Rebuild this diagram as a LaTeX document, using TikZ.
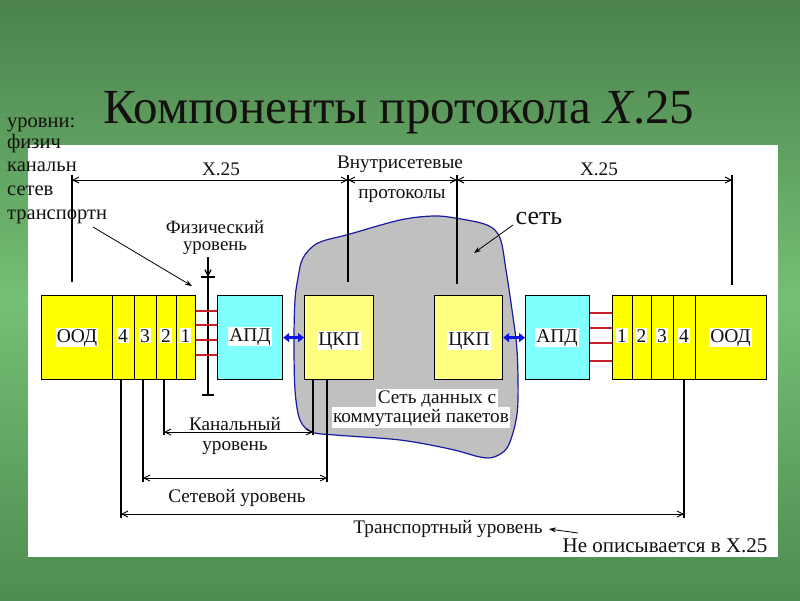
\documentclass[tikz,border=0pt]{standalone}
\usepackage{fontspec}
\setmainfont{Liberation Serif}
\usetikzlibrary{arrows.meta}
\definecolor{bgtop}{HTML}{4B824D}
\definecolor{bgmid}{HTML}{74C074}
\definecolor{bgbot}{HTML}{4F8C51}
\definecolor{yel}{HTML}{FFFF00}
\definecolor{ltyel}{HTML}{FFFF80}
\definecolor{cyanb}{HTML}{80FFFF}
\definecolor{cloudgray}{HTML}{C0C0C0}
\definecolor{cloudedge}{HTML}{1A1AA0}
\definecolor{redline}{HTML}{C81E28}
\definecolor{bluearr}{HTML}{0A14E6}
\definecolor{txt}{HTML}{141010}
\newcommand\fsz[1]{\fontsize{#1}{#1}\selectfont}
\begin{document}
\begin{tikzpicture}[x=1pt,y=-1pt,
  every node/.style={inner sep=0pt,text=txt},
  yblk/.style={draw=black,line width=1.2pt,fill=yel,anchor=north west,minimum height=84pt},
  lyblk/.style={yblk,fill=ltyel},
  cblk/.style={yblk,fill=cyanb},
  blbl/.style={fill=white,inner sep=1pt,anchor=base,font=\fsz{19.5}},
  dlbl/.style={anchor=base,font=\fsz{19.2}},
  wlbl/.style={dlbl,fill=white,inner sep=1.5pt},
  sidelbl/.style={anchor=base west,font=\fsz{20.5}},
  dim/.style={line width=0.9pt,{Straight Barb[length=6pt,width=6pt]}-{Straight Barb[length=6pt,width=6pt]}},
  tick/.style={line width=2pt},
  redl/.style={draw=redline,line width=2.5pt},
  blarr/.style={draw=bluearr,line width=3pt,{Triangle[length=6pt,width=9pt]}-{Triangle[length=6pt,width=9pt]}},
  ptr/.style={line width=0.8pt,-{Stealth[length=7pt,width=5pt]}}
]
\useasboundingbox (0,0) rectangle (800,600);
% background
\shade[top color=bgtop,bottom color=bgmid] (0,0) rectangle (800,300);
\shade[top color=bgmid,bottom color=bgbot] (0,300) rectangle (800,600);
\fill[white] (28,145) rectangle (778,557);

% title
\node[anchor=base,font=\fsz{49}] (title) at (399,123) {Компоненты протокола \textit{X}.25};

% side labels
\node[sidelbl] (s1) at (7,127) {уровни:};
\node[sidelbl] (s2) at (7,148) {физич};
\node[sidelbl] (s3) at (7,171) {канальн};
\node[sidelbl] (s4) at (7,195) {сетев};
\node[sidelbl] (s5) at (7,219) {транспортн};

% cloud
\draw[fill=cloudgray,draw=cloudedge,line width=1.2pt] plot[smooth cycle,tension=0.55] coordinates {
 (295,300) (298,278) (303,258) (318,243) (350,234) (400,220) (433,216) (455,218) (487,225) (500,238)
 (506,270) (512,310) (517,350) (518,400) (515,425) (507,448) (494,457) (480,457) (450,449) (400,440)
 (335,435) (312,432) (300,420) (295,390) (294,340)};

% top dimensions
\coordinate (ta) at (72,180); \coordinate (tb) at (348,180);
\coordinate (tc) at (457,180); \coordinate (td) at (732,180);
\coordinate (ta0) at (72,175); \coordinate (ta1) at (72,282);
\coordinate (tb0) at (348,175); \coordinate (tb1) at (348,282);
\coordinate (tc0) at (457,175); \coordinate (tc1) at (457,284);
\coordinate (td0) at (732,175); \coordinate (td1) at (732,285);
\draw[tick] (ta0) -- (ta1);
\draw[tick] (tb0) -- (tb1);
\draw[tick] (tc0) -- (tc1);
\draw[tick] (td0) -- (td1);
\draw[dim] (ta) -- (tb);
\draw[dim] (tb) -- (tc);
\draw[dim] (tc) -- (td);
\node[dlbl] (x25l) at (221,175) {X.25};
\node[dlbl] (x25r) at (599,175) {X.25};
\node[dlbl] (vnut) at (400,168) {Внутрисетевые};
\node[dlbl] (prot) at (402,198) {протоколы};

% physical level
\node[dlbl,align=center,font=\fontsize{18.8}{17}\selectfont] (fiz) at (215,250) {Физический\\уровень};
\coordinate (ph0) at (208,257); \coordinate (ph1) at (208,277); \coordinate (ph2) at (208,395);
\coordinate (pb1) at (201,277); \coordinate (pb2) at (215,277);
\coordinate (pc1) at (202,395); \coordinate (pc2) at (214,395);
\draw[line width=1.2pt,-{Straight Barb[length=6pt,width=6pt]}] (ph0) -- (ph1);
\draw[line width=1.5pt] (ph1) -- (ph2);
\draw[line width=1.2pt] (pb1) -- (pb2);
\draw[line width=1.2pt] (pc1) -- (pc2);

% red lines
\foreach \yy in {311,325,340,355} \draw[redl] (195,\yy) -- (217,\yy);
\foreach \yy in {313,328,343,361} \draw[redl] (589,\yy) -- (612,\yy);

% left station
\node[yblk,minimum width=71pt] (lood) at (41,295) {};
\node[yblk,minimum width=22pt] (l4) at (112,295) {};
\node[yblk,minimum width=22pt] (l3) at (134,295) {};
\node[yblk,minimum width=20pt] (l2) at (156,295) {};
\node[yblk,minimum width=19pt] (l1) at (176,295) {};
\node[blbl] (loodt) at (77,342) {ООД};
\node[blbl] (l4t) at (123,342) {4};
\node[blbl] (l3t) at (145,342) {3};
\node[blbl] (l2t) at (166,342) {2};
\node[blbl] (l1t) at (185.5,342) {1};
\node[cblk,minimum width=65pt] (lapd) at (217,295) {};
\node[blbl] (lapdt) at (250,341) {АПД};
\node[lyblk,minimum width=69pt] (lckp) at (304,295) {};
\node[blbl] (lckpt) at (339,345) {ЦКП};

% right station
\node[lyblk,minimum width=68pt] (rckp) at (434,295) {};
\node[blbl] (rckpt) at (469,345) {ЦКП};
\node[cblk,minimum width=64pt] (rapd) at (525,295) {};
\node[blbl] (rapdt) at (557,342) {АПД};
\node[yblk,minimum width=20pt] (r1) at (612,295) {};
\node[yblk,minimum width=19pt] (r2) at (632,295) {};
\node[yblk,minimum width=22pt] (r3) at (651,295) {};
\node[yblk,minimum width=22pt] (r4) at (673,295) {};
\node[yblk,minimum width=71pt] (rood) at (695,295) {};
\node[blbl] (r1t) at (622,342) {1};
\node[blbl] (r2t) at (641.5,342) {2};
\node[blbl] (r3t) at (662,342) {3};
\node[blbl] (r4t) at (684,342) {4};
\node[blbl] (roodt) at (730.5,342) {ООД};

% blue arrows
\draw[blarr] (lapd.east) -- (lckp.west);
\draw[blarr] (rckp.east) -- (rapd.west);

% cloud texts
\node[wlbl] (sd1) at (437,403) {Сеть данных с};
\node[wlbl] (sd2) at (421,422) {коммутацией пакетов};
\node[anchor=base,font=\fsz{26}] (set) at (539,224) {сеть};

% bottom dimensions
\coordinate (ka0) at (164,379); \coordinate (ka1) at (164,435);
\coordinate (kb0) at (313,379); \coordinate (kb1) at (313,435);
\coordinate (sa0) at (143,379); \coordinate (sa1) at (143,482);
\coordinate (sb0) at (327,379); \coordinate (sb1) at (327,482);
\coordinate (ra0) at (121,379); \coordinate (ra1) at (121,518);
\coordinate (rb0) at (684,379); \coordinate (rb1) at (684,518);
\draw[tick] (ka0) -- (ka1);
\draw[tick] (kb0) -- (kb1);
\draw[tick] (sa0) -- (sa1);
\draw[tick] (sb0) -- (sb1);
\draw[tick] (ra0) -- (ra1);
\draw[tick] (rb0) -- (rb1);
\coordinate (ka) at (164,432); \coordinate (kb) at (313,432);
\coordinate (sa) at (143,478); \coordinate (sb) at (327,478);
\coordinate (ra) at (121,514); \coordinate (rb) at (684,514);
\draw[dim] (ka) -- (kb);
\draw[dim] (sa) -- (sb);
\draw[dim] (ra) -- (rb);
\node[dlbl] (kan1) at (235,430) {Канальный};
\node[dlbl] (kan2) at (235,450) {уровень};
\node[dlbl] (setv) at (237,502) {Сетевой уровень};
\node[dlbl] (tran) at (448,533) {Транспортный уровень};
\node[anchor=base,font=\fsz{21}] (neop) at (665,552) {Не описывается в X.25};

% pointer arrows
\coordinate (p1a) at (93,227); \coordinate (p1b) at (192,286);
\coordinate (p2a) at (513,225); \coordinate (p2b) at (474,253);
\coordinate (p3a) at (578,533); \coordinate (p3b) at (549,529);
\draw[ptr] (p1a) -- (p1b);
\draw[ptr] (p2a) -- (p2b);
\draw[ptr] (p3a) -- (p3b);
\end{tikzpicture}
\end{document}
